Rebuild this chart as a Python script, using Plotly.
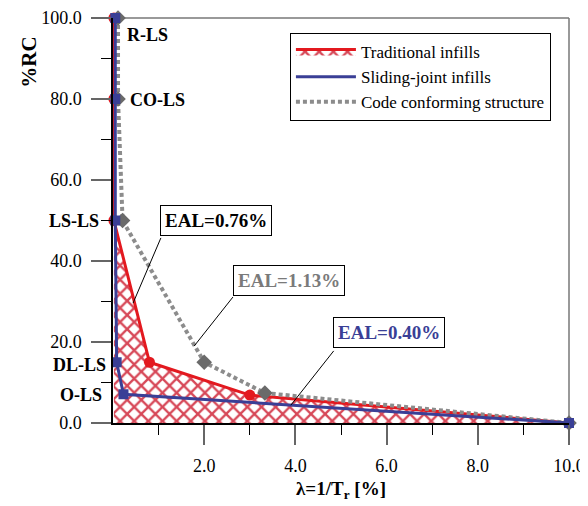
import plotly.graph_objects as go

# ---- data ----
limit_states = ["R-LS", "CO-LS", "LS-LS", "DL-LS", "O-LS"]
rc_levels = [100, 80, 50, 15, 7]

lam_traditional = [0.02, 0.02, 0.02, 0.80, 3.00, 10.0]
rc_traditional = [100, 80, 50, 15, 6.9, 0]

lam_sliding = [0.05, 0.05, 0.05, 0.08, 0.23, 10.0]
rc_sliding = [100, 80, 50, 15, 7.1, 0]

lam_code = [0.11, 0.11, 0.21, 2.00, 3.33, 10.0]
rc_code = [100, 80, 50, 15, 7.4, 0]

eal_labels = ["EAL=0.76%", "EAL=1.13%", "EAL=0.40%"]

x_ticks = [2, 4, 6, 8, 10]
x_minor = [1, 3, 5, 7, 9]
y_ticks = [0, 20, 40, 60, 80, 100]
y_minor = [10, 30, 50, 70, 90]

RED = "#e3191f"
BLUE = "#3a3f96"
GRAY = "#8c8c8c"
DGRAY = "#6a6a6a"
FONT = "Liberation Serif, Times New Roman, Times, serif"

fig = go.Figure()

# Traditional infills: hatched area + line
fig.add_trace(go.Scatter(
    x=lam_traditional, y=rc_traditional, mode="lines", name="Traditional infills",
    line=dict(color=RED, width=3), fill="tozeroy", fillcolor="rgba(0,0,0,0)",
    fillpattern=dict(shape="x", fgcolor="#d0283a", fgopacity=0.85, bgcolor="white",
                     size=10, solidity=0.42),
    legendrank=1, cliponaxis=False))
fig.add_trace(go.Scatter(
    x=lam_traditional, y=rc_traditional, mode="markers", showlegend=False,
    marker=dict(color=RED, size=11, symbol="circle"), cliponaxis=False))

# Code conforming structure
fig.add_trace(go.Scatter(
    x=lam_code, y=rc_code, mode="lines", name="Code conforming structure",
    line=dict(color=GRAY, width=4, dash="4px,3px"), legendrank=3, cliponaxis=False))
fig.add_trace(go.Scatter(
    x=lam_code, y=rc_code, mode="markers", showlegend=False,
    marker=dict(color=DGRAY, size=12, symbol="diamond"), cliponaxis=False))

# Sliding-joint infills
fig.add_trace(go.Scatter(
    x=lam_sliding, y=rc_sliding, mode="lines", name="Sliding-joint infills",
    line=dict(color=BLUE, width=3), legendrank=2, cliponaxis=False))
fig.add_trace(go.Scatter(
    x=lam_sliding, y=rc_sliding, mode="markers", showlegend=False,
    marker=dict(color=BLUE, size=10, symbol="square"), cliponaxis=False))

annotations = []
# limit state labels
ls_pos = {
    "R-LS": dict(xanchor="left", xshift=12, yshift=-17),
    "CO-LS": dict(xanchor="left", xshift=15, yshift=-1),
    "LS-LS": dict(xanchor="right", xshift=-12, yshift=0),
    "DL-LS": dict(xanchor="right", xshift=-5, yshift=-3),
    "O-LS": dict(xanchor="right", xshift=-9, yshift=0),
}
for name, lvl in zip(limit_states, rc_levels):
    p = ls_pos[name]
    annotations.append(dict(
        x=0, y=lvl, xref="x", yref="y", text=f"<b>{name}</b>", showarrow=False,
        xanchor=p["xanchor"], yanchor="middle", xshift=p["xshift"], yshift=p["yshift"],
        font=dict(family=FONT, size=18, color="black")))

# EAL boxes
eal_colors = ["black", "#7a7a7a", BLUE]
eal_box = [(1.03, 53.8), (2.63, 39.0), (4.82, 26.2)]
for txt, col, (bx, by) in zip(eal_labels, eal_colors, eal_box):
    annotations.append(dict(
        x=bx, y=by, xref="x", yref="y", text=f"<b>{txt}</b>", showarrow=False,
        xanchor="left", yanchor="top", bgcolor="white", bordercolor="black",
        borderwidth=1, borderpad=4, font=dict(family=FONT, size=19, color=col)))

# y-axis title at the top
annotations.append(dict(
    x=-0.186, y=0.89, xref="paper", yref="paper", text="<b>%RC</b>", textangle=-90,
    showarrow=False, xanchor="center", yanchor="middle",
    font=dict(family=FONT, size=21, color="black")))

shapes = [
    dict(type="line", xref="x", yref="y", x0=1.05, y0=45.7, x1=0.44, y1=29.6,
         line=dict(color="black", width=1)),
    dict(type="line", xref="x", yref="y", x0=2.63, y0=31.1, x1=1.78, y1=19.0,
         line=dict(color="black", width=1)),
    dict(type="line", xref="x", yref="y", x0=4.84, y0=17.8, x1=3.90, y1=4.4,
         line=dict(color="black", width=1)),
    dict(type="line", xref="paper", yref="paper", x0=0, y0=1, x1=1, y1=1,
         line=dict(color="#777", width=1.5), layer="below"),
    dict(type="line", xref="paper", yref="paper", x0=1, y0=0, x1=1, y1=1,
         line=dict(color="#777", width=1.5), layer="below"),
]

fig.update_layout(
    width=580, height=498,
    margin=dict(l=105, r=19, t=10, b=83, autoexpand=False),
    paper_bgcolor="white", plot_bgcolor="white",
    font=dict(family=FONT, size=18, color="black"),
    annotations=annotations, shapes=shapes,
    legend=dict(x=0.388, y=0.963, xanchor="left", yanchor="top",
                bordercolor="black", borderwidth=1, bgcolor="white",
                font=dict(family=FONT, size=17, color="black"),
                itemwidth=60, tracegroupgap=0),
    xaxis=dict(range=[0, 10], showgrid=False, zeroline=False, showline=True,
               automargin=False,
               linecolor="black", linewidth=1.5, tickvals=x_ticks,
               tickformat=".1f", ticks="outside", ticklen=20, tickcolor="#666",
               tickwidth=1.5, ticklabelstandoff=6,
               minor=dict(tickvals=x_minor, ticks="outside", ticklen=10,
                          tickcolor="black", tickwidth=1),
               title=dict(text="<b>λ=1/T<sub>r</sub> [%]</b>", standoff=6,
                          font=dict(family=FONT, size=19))),
    yaxis=dict(range=[0, 100], showgrid=False, zeroline=False, showline=True,
               automargin=False,
               linecolor="black", linewidth=1.5, tickvals=y_ticks,
               tickformat=".1f", ticks="outside", ticklen=20, tickcolor="#666",
               tickwidth=1.5, ticklabelstandoff=6,
               minor=dict(tickvals=y_minor, ticks="outside", ticklen=10,
                          tickcolor="black", tickwidth=1)),
)

fig.write_html("out.html")
